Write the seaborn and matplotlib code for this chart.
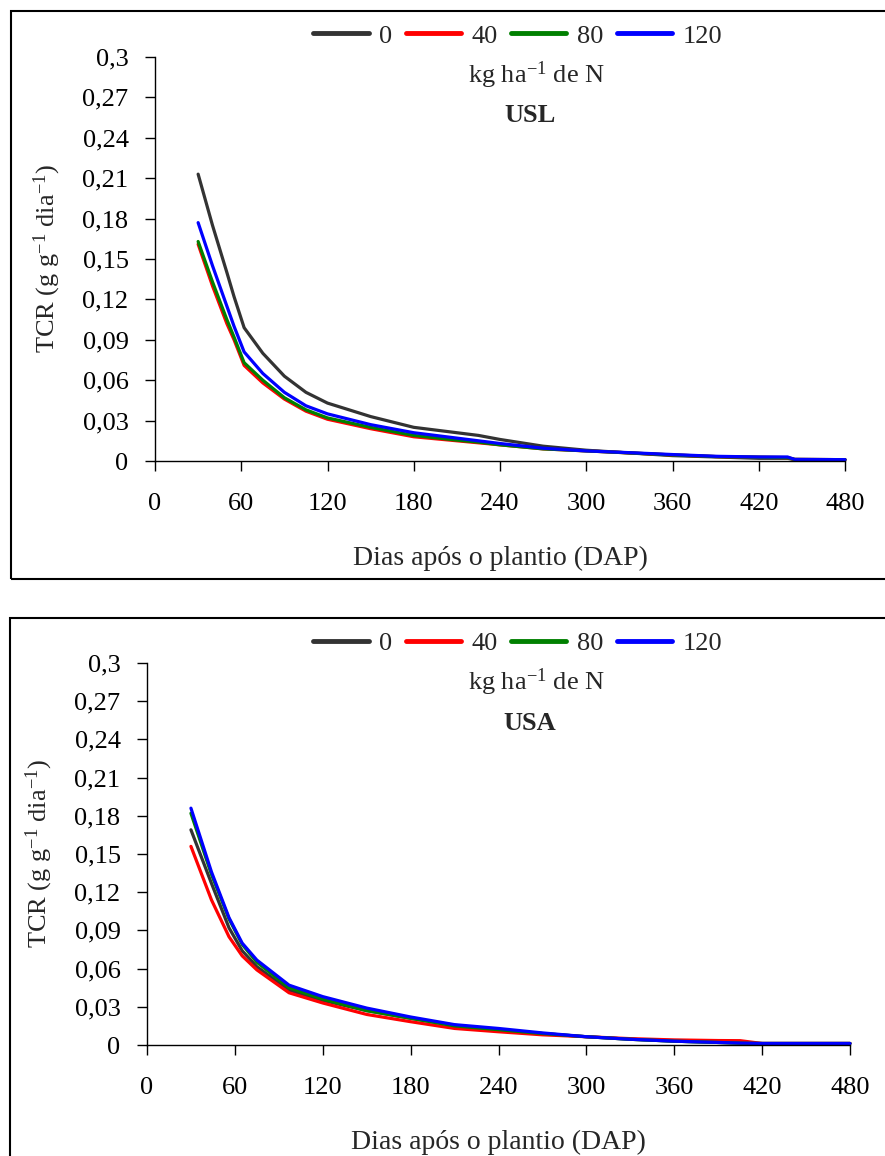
import numpy as np
import pandas as pd
import matplotlib
matplotlib.use('Agg')
import matplotlib.pyplot as plt
import seaborn as sns
from matplotlib.patches import Rectangle
from matplotlib.lines import Line2D

# doses de N (kg/ha)
doses = ['0', '40', '80', '120']
cores = ['#333333', '#ff0000', '#008000', '#0000ff']

# USL
dap_usl = [30, 40, 50, 55, 62, 75, 90, 105, 120, 150, 180, 210, 225, 240, 270, 300, 330, 360, 390, 420, 440, 445, 480]
usl_0 = [0.213, 0.175, 0.140, 0.122, 0.099, 0.080, 0.063, 0.051, 0.043, 0.033, 0.025, 0.021, 0.019, 0.016, 0.011, 0.008, 0.006, 0.004, 0.003, 0.002, 0.002, 0.001, 0.001]
usl_40 = [0.161, 0.130, 0.102, 0.090, 0.071, 0.058, 0.046, 0.037, 0.031, 0.024, 0.018, 0.015, 0.0135, 0.012, 0.009, 0.0075, 0.006, 0.0045, 0.0033, 0.0028, 0.0025, 0.0012, 0.001]
usl_80 = [0.163, 0.133, 0.105, 0.092, 0.073, 0.060, 0.047, 0.038, 0.032, 0.025, 0.019, 0.0155, 0.014, 0.012, 0.009, 0.0075, 0.006, 0.0045, 0.0033, 0.0028, 0.0025, 0.0012, 0.001]
usl_120 = [0.177, 0.145, 0.115, 0.100, 0.081, 0.065, 0.051, 0.041, 0.035, 0.027, 0.021, 0.017, 0.015, 0.013, 0.0095, 0.0075, 0.0062, 0.0048, 0.0035, 0.003, 0.003, 0.0012, 0.001]

# USA
dap_usa = [30, 44, 56, 65, 75, 97, 120, 150, 180, 210, 240, 270, 300, 330, 360, 390, 405, 420, 480]
usa_0 = [0.169, 0.127, 0.092, 0.074, 0.0615, 0.043, 0.035, 0.027, 0.021, 0.0155, 0.012, 0.009, 0.0065, 0.0045, 0.003, 0.002, 0.0015, 0.0012, 0.0012]
usa_40 = [0.156, 0.114, 0.085, 0.070, 0.059, 0.041, 0.033, 0.024, 0.0183, 0.013, 0.0104, 0.008, 0.0065, 0.005, 0.004, 0.0035, 0.0034, 0.0012, 0.0012]
usa_80 = [0.182, 0.134, 0.099, 0.079, 0.065, 0.045, 0.036, 0.027, 0.021, 0.015, 0.012, 0.009, 0.0065, 0.0045, 0.003, 0.002, 0.0015, 0.0012, 0.0012]
usa_120 = [0.186, 0.136, 0.100, 0.080, 0.0667, 0.047, 0.038, 0.029, 0.022, 0.016, 0.013, 0.0095, 0.0065, 0.0045, 0.003, 0.002, 0.0015, 0.0012, 0.0012]

y_ticks = [0, 0.03, 0.06, 0.09, 0.12, 0.15, 0.18, 0.21, 0.24, 0.27, 0.3]
y_labels = ['0', '0,03', '0,06', '0,09', '0,12', '0,15', '0,18', '0,21', '0,24', '0,27', '0,3']
x_ticks = [0, 60, 120, 180, 240, 300, 360, 420, 480]

sns.set_style('white')
plt.rcParams['font.family'] = ['Liberation Serif', 'DejaVu Serif']
plt.rcParams['mathtext.fontset'] = 'custom'
plt.rcParams['mathtext.rm'] = 'Liberation Serif'
plt.rcParams['mathtext.default'] = 'regular'

FS = 19


def monta_df(dap, series):
    linhas = []
    for d, vals in zip(doses, series):
        for x, y in zip(dap, vals):
            linhas.append({'DAP': x, 'TCR': y, 'dose': d})
    return pd.DataFrame(linhas)


def painel(fig, rect, dap, series, titulo, leg_y, box):
    ax = fig.add_axes(rect)
    df = monta_df(dap, series)
    sns.lineplot(data=df, x='DAP', y='TCR', hue='dose', hue_order=doses,
                 palette=dict(zip(doses, cores)), linewidth=2.3, legend=False,
                 ax=ax, clip_on=False)
    ax.set_xlim(0, 480)
    ax.set_ylim(0, 0.3)
    ax.set_xticks(x_ticks)
    ax.set_xticklabels([str(t) for t in x_ticks], fontsize=FS)
    ax.set_yticks(y_ticks)
    ax.set_yticklabels(y_labels, fontsize=FS)
    ax.tick_params(axis='x', bottom=True, direction='out', length=7, width=1, pad=16, colors='black')
    ax.tick_params(axis='y', left=True, direction='out', length=7, width=1, pad=12, colors='black')
    for s in ['top', 'right']:
        ax.spines[s].set_visible(False)
    for s in ['left', 'bottom']:
        ax.spines[s].set_color('black')
        ax.spines[s].set_linewidth(1)
    ax.set_xlabel('Dias após o plantio (DAP)', fontsize=FS + 1, labelpad=22)
    ax.set_ylabel(r'TCR (g g$^{-1}$ dia$^{-1}$)', fontsize=FS, labelpad=14)

    handles = [Line2D([], [], color=c, lw=3.5, solid_capstyle='round') for c in cores]
    fig.legend(handles, doses, loc='center', bbox_to_anchor=(0.585, 1 - leg_y / 1156),
               ncol=4, frameon=False, fontsize=FS, handlelength=2.1,
               handletextpad=0.4, columnspacing=0.5)
    fig.text(536 / 885, 1 - (leg_y + 39) / 1156, r'kg ha$^{-1}$ de N', fontsize=FS,
             ha='center', va='center')
    fig.text(530 / 885, 1 - (leg_y + 80) / 1156, titulo, fontsize=FS,
             fontweight='bold', ha='center', va='center')

    x0, y0, x1, y1 = box
    fig.patches.append(Rectangle((x0 / 885, 1 - y1 / 1156), (x1 - x0) / 885, (y1 - y0) / 1156,
                                 transform=fig.transFigure, fill=False,
                                 edgecolor='black', linewidth=1.5))
    return ax


fig = plt.figure(figsize=(8.85, 11.56), dpi=100)

painel(fig, [155 / 885, 1 - 461 / 1156, 690 / 885, 404 / 1156],
       dap_usl, [usl_0, usl_40, usl_80, usl_120], 'USL', 36, (11, 11, 890, 579))
painel(fig, [147 / 885, 1 - 1045 / 1156, 703 / 885, 382 / 1156],
       dap_usa, [usa_0, usa_40, usa_80, usa_120], 'USA', 643, (10, 618, 890, 1160))

plt.savefig('out.png', dpi=100)
